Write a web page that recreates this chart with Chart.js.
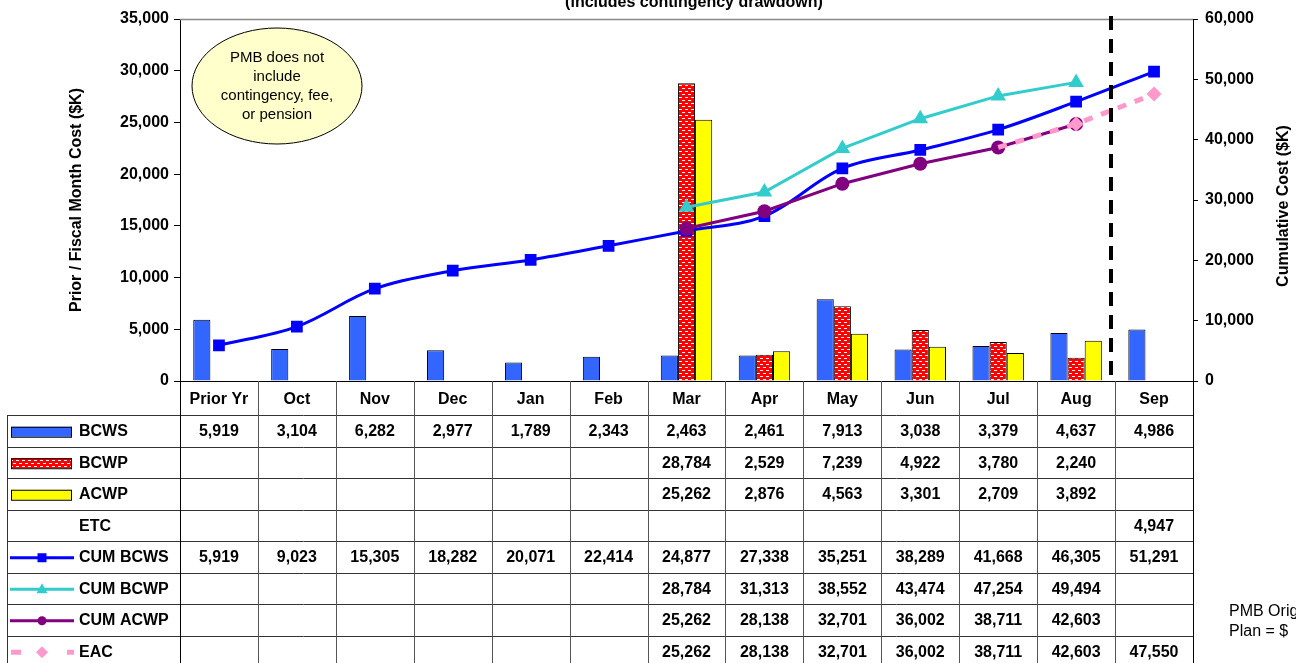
<!DOCTYPE html>
<html><head><meta charset="utf-8">
<script src="https://cdn.jsdelivr.net/npm/chart.js@4/dist/chart.umd.min.js"></script>
<style>html,body{margin:0;padding:0;background:#fff;overflow:hidden}#wrap{position:relative;width:1296px;height:663px}</style>
</head><body><div id="wrap"><canvas id="c" width="1296" height="663"></canvas></div>
<script>
const categories = ['Prior Yr','Oct','Nov','Dec','Jan','Feb','Mar','Apr','May','Jun','Jul','Aug','Sep'];
const bcws    = [5919,3104,6282,2977,1789,2343,2463,2461,7913,3038,3379,4637,4986];
const bcwp    = [null,null,null,null,null,null,28784,2529,7239,4922,3780,2240,null];
const acwp    = [null,null,null,null,null,null,25262,2876,4563,3301,2709,3892,null];
const etc     = [null,null,null,null,null,null,null,null,null,null,null,null,4947];
const cumBcws = [5919,9023,15305,18282,20071,22414,24877,27338,35251,38289,41668,46305,51291];
const cumBcwp = [null,null,null,null,null,null,28784,31313,38552,43474,47254,49494,null];
const cumAcwp = [null,null,null,null,null,null,25262,28138,32701,36002,38711,42603,null];
const eac     = [null,null,null,null,null,null,25262,28138,32701,36002,38711,42603,47550];
const leftAxis  = {min:0, max:35000, step:5000};
const rightAxis = {min:0, max:60000, step:10000};
const titleText = '(includes contingency drawdown)';
const leftTitle = 'Prior / Fiscal Month Cost ($K)';
const rightTitle = 'Cumulative Cost ($K)';
const noteLines = ['PMB does not','include','contingency, fee,','or pension'];
const pmbLines = ['PMB Original','Plan = $'];

const FONT = 'Arial, "Liberation Sans", sans-serif';
Chart.defaults.font.family = FONT;
Chart.defaults.color = '#000';

function makePattern(){
  const p = document.createElement('canvas'); p.width = 6; p.height = 6;
  const g = p.getContext('2d');
  g.fillStyle = '#FF0000'; g.fillRect(0,0,6,6);
  g.fillStyle = '#FFFFFF';
  g.fillRect(1,1,3,1); g.fillRect(4,4,2,1); g.fillRect(0,4,1,1);
  return document.getElementById('c').getContext('2d').createPattern(p,'repeat');
}
const redPattern = makePattern();
const fmt = v => (v===null||v===undefined) ? '' : v.toLocaleString('en-US');

const COLORS = {bcws:'#3366FF', acwp:'#FFFF00', cumBcws:'#0000FF', cumBcwp:'#33CCCC', cumAcwp:'#800080', eac:'#FF99CC'};

const tableRows = [
  {label:'BCWS', values:bcws, sym:'bar', fill:COLORS.bcws},
  {label:'BCWP', values:bcwp, sym:'bar', fill:redPattern},
  {label:'ACWP', values:acwp, sym:'bar', fill:COLORS.acwp},
  {label:'ETC', values:etc, sym:'none'},
  {label:'CUM BCWS', values:cumBcws, sym:'line', color:COLORS.cumBcws, marker:'rect'},
  {label:'CUM BCWP', values:cumBcwp, sym:'line', color:COLORS.cumBcwp, marker:'tri'},
  {label:'CUM ACWP', values:cumAcwp, sym:'line', color:COLORS.cumAcwp, marker:'circle'},
  {label:'EAC', values:eac, sym:'dash', color:COLORS.eac, marker:'diamond'}
];

const tablePlugin = {
  id:'tablePlugin',
  afterDraw(chart){
    const ctx = chart.ctx, a = chart.chartArea, xs = chart.scales.x;
    const n = categories.length;
    const cx = categories.map((_,i)=>xs.getPixelForValue(i));
    const step = cx[1]-cx[0];
    const bounds = [];
    for(let i=0;i<=n;i++) bounds.push(Math.round(cx[0]-step/2+i*step));
    const rowTop = a.bottom + 34, rowH = 31.5, H = chart.height;
    ctx.save();
    ctx.strokeStyle = '#888'; ctx.lineWidth = 1.5;
    ctx.beginPath(); ctx.moveTo(a.left, a.top+0.5); ctx.lineTo(a.right, a.top+0.5); ctx.stroke();
    ctx.lineWidth = 1; ctx.strokeStyle = '#333';
    for(let i=0;i<8;i++){
      const y = Math.round(rowTop+i*rowH)+0.5;
      ctx.beginPath(); ctx.moveTo(7, y); ctx.lineTo(bounds[n], y); ctx.stroke();
    }
    ctx.beginPath(); ctx.moveTo(7.5, rowTop); ctx.lineTo(7.5, H); ctx.stroke();
    bounds.forEach((b,i)=>{
      ctx.strokeStyle = (i===0||i===n) ? '#000' : '#555';
      ctx.beginPath(); ctx.moveTo(b+0.5, a.bottom); ctx.lineTo(b+0.5, H); ctx.stroke();
    });
    ctx.font = 'bold 16px '+FONT; ctx.textBaseline = 'middle';
    tableRows.forEach((r,i)=>{
      const yc = rowTop + i*rowH + rowH/2 + 1;
      if(r.sym==='bar'){
        ctx.fillStyle = r.fill; ctx.fillRect(11, yc-5, 61, 10);
        ctx.strokeStyle = '#000'; ctx.lineWidth = 1; ctx.strokeRect(11.5, yc-4.5, 60, 10);
      } else if(r.sym==='line' || r.sym==='dash'){
        ctx.strokeStyle = r.color; ctx.fillStyle = r.color; ctx.lineWidth = 3;
        if(r.sym==='dash'){
          ctx.lineWidth = 5;
          ctx.beginPath(); ctx.moveTo(11, yc); ctx.lineTo(21, yc); ctx.moveTo(67, yc); ctx.lineTo(74, yc); ctx.stroke();
        } else {
          ctx.beginPath(); ctx.moveTo(10, yc); ctx.lineTo(74, yc); ctx.stroke();
        }
        const mx = 42;
        ctx.beginPath();
        if(r.marker==='rect'){ ctx.rect(mx-4.5, yc-4.5, 9, 9); }
        else if(r.marker==='tri'){ ctx.moveTo(mx, yc-6); ctx.lineTo(mx+5.5, yc+4); ctx.lineTo(mx-5.5, yc+4); ctx.closePath(); }
        else if(r.marker==='circle'){ ctx.arc(mx, yc, 4.5, 0, Math.PI*2); }
        else if(r.marker==='diamond'){ ctx.moveTo(mx, yc-6); ctx.lineTo(mx+6, yc); ctx.lineTo(mx, yc+6); ctx.lineTo(mx-6, yc); ctx.closePath(); }
        ctx.fill();
      }
      ctx.fillStyle = '#000'; ctx.textAlign = 'left';
      ctx.fillText(r.label, 79, yc);
      ctx.textAlign = 'center';
      r.values.forEach((v,j)=>{ if(v!==null) ctx.fillText(fmt(v), cx[j], yc); });
    });
    const xd = Math.round((cx[n-2]+cx[n-1])/2) - 4;
    ctx.strokeStyle = '#000'; ctx.lineWidth = 4; ctx.setLineDash([14,9]);
    ctx.beginPath(); ctx.moveTo(xd, a.top-3); ctx.lineTo(xd, a.bottom); ctx.stroke();
    ctx.setLineDash([]);
    ctx.font = 'bold 16px '+FONT; ctx.textAlign = 'center'; ctx.textBaseline = 'alphabetic';
    ctx.fillText(titleText, 694, 7);
    ctx.save(); ctx.translate(1284, 206); ctx.rotate(-Math.PI/2);
    ctx.textBaseline = 'middle'; ctx.fillText(rightTitle, 0, 0); ctx.restore();
    ctx.beginPath(); ctx.ellipse(277, 86, 85, 58, 0, 0, Math.PI*2);
    ctx.fillStyle = '#FFFFCC'; ctx.fill(); ctx.strokeStyle = '#000'; ctx.lineWidth = 1; ctx.stroke();
    ctx.fillStyle = '#000'; ctx.font = '15px '+FONT; ctx.textBaseline = 'middle';
    noteLines.forEach((t,i)=>ctx.fillText(t, 277, 58+i*19));
    ctx.font = '16px '+FONT; ctx.textAlign = 'left';
    pmbLines.forEach((t,i)=>ctx.fillText(t, 1229, 612+i*20));
    ctx.restore();
  }
};

new Chart(document.getElementById('c'), {
  data:{
    labels:categories,
    datasets:[
      {type:'line', label:'EAC', data:eac, yAxisID:'y1', order:1, borderColor:COLORS.eac, backgroundColor:COLORS.eac,
       borderWidth:5, borderDash:[9,9], pointStyle:'rectRot', pointBorderWidth:0,
       pointRadius:ctx=>ctx.dataIndex>=11?7.5:0, tension:0,
       segment:{borderColor:ctx=>ctx.p0DataIndex<10?'rgba(0,0,0,0)':undefined}},
      {type:'line', label:'CUM ACWP', data:cumAcwp, yAxisID:'y1', order:2, borderColor:COLORS.cumAcwp, backgroundColor:COLORS.cumAcwp,
       borderWidth:3, pointStyle:'circle', pointRadius:7, pointBorderWidth:0, tension:0},
      {type:'line', label:'CUM BCWP', data:cumBcwp, yAxisID:'y1', order:3, borderColor:COLORS.cumBcwp, backgroundColor:COLORS.cumBcwp,
       borderWidth:3, pointStyle:'triangle', pointRadius:9, pointBorderWidth:0, tension:0},
      {type:'line', label:'CUM BCWS', data:cumBcws, yAxisID:'y1', order:4, borderColor:COLORS.cumBcws, backgroundColor:COLORS.cumBcws,
       borderWidth:3, pointStyle:'rect', pointRadius:8.3, pointBorderWidth:0, tension:0.35},
      {type:'bar', label:'BCWS', data:bcws, yAxisID:'y', order:10, backgroundColor:COLORS.bcws, borderColor:'#000', borderWidth:1},
      {type:'bar', label:'BCWP', data:bcwp, yAxisID:'y', order:11, backgroundColor:redPattern, borderColor:'#000', borderWidth:1},
      {type:'bar', label:'ACWP', data:acwp, yAxisID:'y', order:12, backgroundColor:COLORS.acwp, borderColor:'#000', borderWidth:1}
    ]
  },
  options:{
    responsive:false, animation:false, events:[], devicePixelRatio:1,
    layout:{padding:{left:67, right:3, top:19, bottom:248}},
    datasets:{bar:{categoryPercentage:0.66, barPercentage:1}},
    plugins:{legend:{display:false}, tooltip:{enabled:false}, title:{display:false}},
    scales:{
      x:{type:'category', offset:true, grid:{display:false, drawTicks:false},
         border:{display:true, color:'#000', width:1},
         ticks:{font:{size:16, weight:'bold'}, color:'#000', padding:9, maxRotation:0, autoSkip:false},
         afterFit:s=>{s.height=34;}},
      y:{position:'left', min:leftAxis.min, max:leftAxis.max,
         ticks:{stepSize:leftAxis.step, callback:v=>fmt(v), font:{size:16, weight:'bold'}, color:'#000', padding:5},
         grid:{drawOnChartArea:false, tickLength:6, color:'#000'}, border:{color:'#000', width:1},
         title:{display:true, text:leftTitle, font:{size:16, weight:'bold'}, color:'#000', padding:0},
         afterFit:s=>{s.width=113;}},
      y1:{position:'right', min:rightAxis.min, max:rightAxis.max,
         ticks:{stepSize:rightAxis.step, callback:v=>fmt(v), font:{size:16, weight:'bold'}, color:'#000', padding:7},
         grid:{drawOnChartArea:false, tickLength:5, color:'#000'}, border:{color:'#000', width:1},
         afterFit:s=>{s.width=100;}}
    }
  },
  plugins:[tablePlugin]
});
</script></body></html>
